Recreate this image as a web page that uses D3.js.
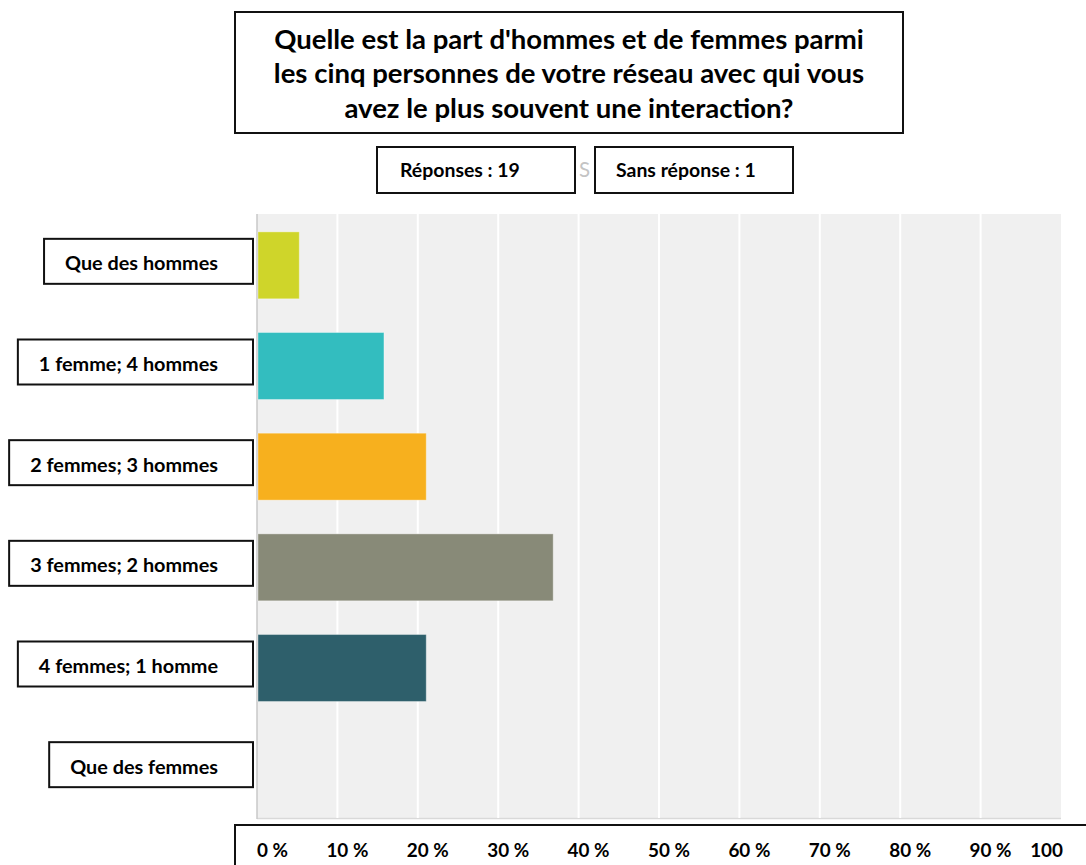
<!DOCTYPE html>
<html>
<head>
<meta charset="utf-8">
<script src="https://cdn.jsdelivr.net/npm/d3@7"></script>
<style>
  html, body { margin: 0; padding: 0; background: #fff; overflow: hidden; }
  svg { display: block; }
  text { font-family: Lato, "Open Sans", "DejaVu Sans", sans-serif; font-weight: 700; fill: #000; }
</style>
</head>
<body>
<svg id="chart" width="1086" height="865"></svg>
<script>
// ---- data ----
const categories = ["Que des hommes", "1 femme; 4 hommes", "2 femmes; 3 hommes", "3 femmes; 2 hommes", "4 femmes; 1 homme", "Que des femmes"];
const values = [5.26, 15.79, 21.05, 36.84, 21.05, 0];
const barColors = ["#cfd52a", "#33bdbf", "#f7b01e", "#888a78", "#2e5f6b", "#6f8fb0"];
const tickValues = [0, 10, 20, 30, 40, 50, 60, 70, 80, 90, 100];
const tickLabels = ["0 %", "10 %", "20 %", "30 %", "40 %", "50 %", "60 %", "70 %", "80 %", "90 %", "100"];
const titleLines = ["Quelle est la part d'hommes et de femmes parmi", "les cinq personnes de votre réseau avec qui vous", "avez le plus souvent une interaction?"];
const responseLabels = ["Réponses : 19", "Sans réponse : 1"];
const hiddenText = "S";

// ---- layout ----
const svg = d3.select("#chart");
const plot = { left: 257, right: 1061, top: 214, bottom: 818 };

const x = d3.scaleLinear().domain([0, 100]).range([plot.left, plot.right]);
const y = d3.scaleBand().domain(categories).range([plot.top, plot.bottom])
  .paddingInner(0.335).paddingOuter(0.1675);

function fit(sel, target) {
  const w = sel.node().getComputedTextLength();
  const fs = parseFloat(sel.attr("font-size"));
  const nfs = fs * target / w;
  sel.attr("font-size", nfs);
  return nfs;
}

// plot background
svg.append("rect")
  .attr("x", plot.left).attr("y", plot.top)
  .attr("width", plot.right - plot.left).attr("height", plot.bottom - plot.top)
  .attr("fill", "#f0f0f0");
// bottom shadow
svg.append("line")
  .attr("x1", plot.left).attr("x2", plot.right)
  .attr("y1", plot.bottom + 0.5).attr("y2", plot.bottom + 0.5)
  .attr("stroke", "#d9d9d9").attr("stroke-width", 1.5);

// grid lines
svg.append("g").selectAll("line")
  .data(tickValues.filter(v => v > 0 && v < 100))
  .join("line")
  .attr("x1", d => x(d)).attr("x2", d => x(d))
  .attr("y1", plot.top).attr("y2", plot.bottom)
  .attr("stroke", "#ffffff").attr("stroke-width", 2);

// left axis line
svg.append("line")
  .attr("x1", plot.left).attr("x2", plot.left)
  .attr("y1", plot.top).attr("y2", plot.bottom + 1)
  .attr("stroke", "#c9c9c9").attr("stroke-width", 1.5);

// bars
svg.append("g").selectAll("rect")
  .data(categories)
  .join("rect")
  .attr("x", x(0) + 1)
  .attr("y", d => y(d) + 1)
  .attr("width", (d, i) => Math.max(0, x(values[i]) - x(0) - 1))
  .attr("height", y.bandwidth())
  .attr("fill", (d, i) => barColors[i])
  .attr("stroke", "rgba(255,255,255,0.35)")
  .attr("stroke-width", 1)
  .style("display", (d, i) => values[i] > 0 ? null : "none");

// ---- title box ----
svg.append("rect")
  .attr("x", 235).attr("y", 12).attr("width", 668).attr("height", 121)
  .attr("fill", "#fff").attr("stroke", "#111").attr("stroke-width", 2);
const titleBaselines = [49, 83, 118];
const tLines = svg.append("g").selectAll("text")
  .data(titleLines)
  .join("text")
  .attr("x", 569)
  .attr("y", (d, i) => titleBaselines[i])
  .attr("text-anchor", "middle")
  .attr("font-size", 24)
  .text(d => d);
const tfs = fit(d3.select(tLines.nodes()[0]), 590);
tLines.attr("font-size", tfs);

// ---- responses ----
const respBoxes = [{ x: 377, w: 198, tx: 400 }, { x: 595, w: 198, tx: 616 }];
const rg = svg.append("g");
rg.selectAll("rect").data(respBoxes).join("rect")
  .attr("x", d => d.x).attr("y", 147).attr("width", d => d.w).attr("height", 46)
  .attr("fill", "#fff").attr("stroke", "#111").attr("stroke-width", 2);
const rTexts = rg.selectAll("text").data(responseLabels).join("text")
  .attr("x", (d, i) => respBoxes[i].tx).attr("y", 177)
  .attr("font-size", 16)
  .text(d => d);
const rfs = fit(d3.select(rTexts.nodes()[0]), 120);
rTexts.attr("font-size", rfs);
// faint underlying glyph peeking out between the two boxes
svg.append("text")
  .attr("x", 579).attr("y", 177)
  .attr("font-size", rfs + 1)
  .style("fill", "#c4c4c4").style("font-weight", 400)
  .text(hiddenText);

// ---- category label boxes ----
const lg = svg.append("g");
const lTexts = lg.selectAll("text").data(categories).join("text")
  .attr("font-size", 20)
  .attr("dominant-baseline", "central")
  .text(d => d);
const lfs = fit(d3.select(lTexts.nodes()[0]), 153);
lTexts.attr("font-size", lfs);
const boxRight = 253;
lTexts.each(function (d) {
  const w = this.getComputedTextLength();
  const cy = y(d) + y.bandwidth() / 2 - 3;
  const left = boxRight - w - 56;
  lg.insert("rect", "text")
    .attr("x", left).attr("y", cy - 22.5)
    .attr("width", boxRight - left).attr("height", 45)
    .attr("fill", "#fff").attr("stroke", "#111").attr("stroke-width", 2);
  d3.select(this).attr("x", left + 21).attr("y", cy + 1);
});

// ---- x axis labels box ----
svg.append("rect")
  .attr("x", 235).attr("y", 825).attr("width", 900).attr("height", 80)
  .attr("fill", "#fff").attr("stroke", "#111").attr("stroke-width", 2);
const ag = svg.append("g");
const aTexts = ag.selectAll("text").data(tickValues).join("text")
  .attr("y", 857)
  .attr("text-anchor", "middle")
  .attr("font-size", 18)
  .text((d, i) => tickLabels[i]);
const afs = fit(d3.select(aTexts.nodes()[1]), 42);
aTexts.attr("font-size", afs);
aTexts.each(function (d) {
  const w = this.getComputedTextLength();
  let cx = x(d) + 10;
  cx = Math.max(cx, x.range()[0] + w / 2);
  cx = Math.min(cx, x.range()[1] + 2 - w / 2);
  d3.select(this).attr("x", cx);
});
</script>
</body>
</html>
